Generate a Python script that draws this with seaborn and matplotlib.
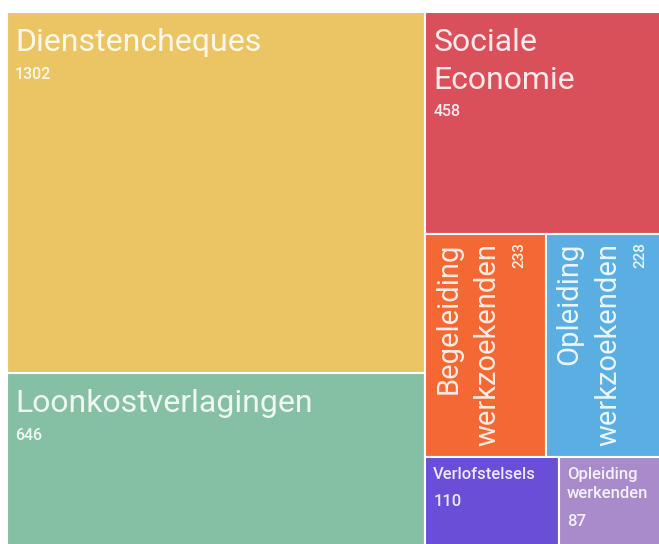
import matplotlib
matplotlib.use('Agg')
import matplotlib.pyplot as plt
from matplotlib.patches import Rectangle
import seaborn as sns

# Data
categories = ['Dienstencheques', 'Loonkostverlagingen', 'Sociale Economie',
              'Begeleiding werkzoekenden', 'Opleiding werkzoekenden',
              'Verlofstelsels', 'Opleiding werkenden']
labels = ['Dienstencheques', 'Loonkostverlagingen', 'Sociale\nEconomie',
          'Begeleiding\nwerkzoekenden', 'Opleiding\nwerkzoekenden',
          'Verlofstelsels', 'Opleiding\nwerkenden']
values = [1302, 646, 458, 233, 228, 110, 87]
colors = ['#EBC564', '#86C0A4', '#D9505A', '#F46833',
          '#5AAEE2', '#6A4ED8', '#A98BCB']

sns.set_theme(style='white')
plt.rcParams['font.family'] = ['Roboto', 'DejaVu Sans']

PHI = (1 + 5 ** 0.5) / 2


# squarified treemap (same idea as d3.treemapSquarify)
def squarify(vals, x0, y0, x1, y1, ratio=PHI):
    rects = []
    i0 = i1 = 0
    n = len(vals)
    total = float(sum(vals))
    while i0 < n:
        dx, dy = x1 - x0, y1 - y0
        s = vals[i1]
        i1 += 1
        vmin = vmax = s
        alpha = max(dy / dx, dx / dy) / (total * ratio)
        beta = s * s * alpha
        best = max(vmax / beta, beta / vmin)
        while i1 < n:
            v = vals[i1]
            s2 = s + v
            beta = s2 * s2 * alpha
            r = max(max(vmax, v) / beta, beta / min(vmin, v))
            if r > best:
                break
            s, vmin, vmax, best = s2, min(vmin, v), max(vmax, v), r
            i1 += 1
        row = vals[i0:i1]
        if dx < dy:
            h = dy * s / total
            cx = x0
            for v in row:
                w = dx * v / s
                rects.append((cx, y0, w, h))
                cx += w
            y0 += h
        else:
            w = dx * s / total
            cy = y0
            for v in row:
                h = dy * v / s
                rects.append((x0, cy, w, h))
                cy += h
            x0 += w
        total -= s
        i0 = i1
    return rects


fig = plt.figure(figsize=(6.59, 5.44), dpi=100)
ax = fig.add_axes([0, 0, 1, 1])
ax.set_xlim(0, 659)
ax.set_ylim(544, 0)
ax.axis('off')

rects = squarify(values, 7, 12, 665, 552)

txt_col = (1, 1, 1, 0.88)
for (x, y, w, h), lab, val, col in zip(rects, labels, values, colors):
    ax.add_patch(Rectangle((x, y), w, h, facecolor=col, edgecolor='white', linewidth=1.5))
    big = min(w, h) > 100
    if h > 1.5 * w:
        # tall tile: rotated label
        t = ax.text(x + 9, y + 9, lab, rotation=90, ha='left', va='top',
                    multialignment='right', fontsize=21, color=txt_col,
                    linespacing=1.5)
        ax.annotate(str(val), xy=(1, 1), xycoords=t, xytext=(8, 0),
                    textcoords='offset points', rotation=90, ha='left', va='top',
                    fontsize=11, color=txt_col, fontweight='medium')
    elif big:
        t = ax.text(x + 8, y + 16, lab, ha='left', va='top', fontsize=23,
                    color=txt_col, linespacing=1.37)
        ax.annotate(str(val), xy=(0, 0), xycoords=t, xytext=(0, -7),
                    textcoords='offset points', ha='left', va='top',
                    fontsize=11.5, color=txt_col, fontweight='medium')
    else:
        t = ax.text(x + 8, y + 10, lab, ha='left', va='top', fontsize=12,
                    color=txt_col, linespacing=1.4, fontweight='medium')
        ax.annotate(str(val), xy=(0, 0), xycoords=t, xytext=(0, -9),
                    textcoords='offset points', ha='left', va='top',
                    fontsize=12, color=txt_col, fontweight='medium')

fig.savefig('out.png', dpi=100)
